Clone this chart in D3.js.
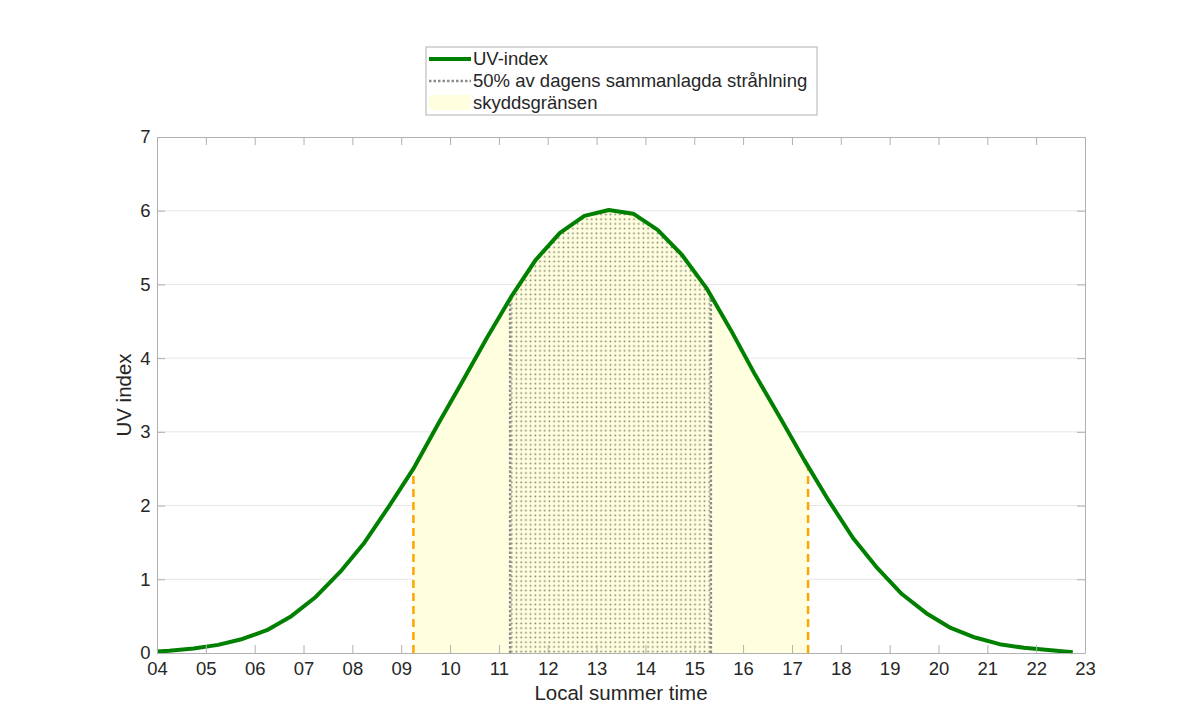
<!DOCTYPE html>
<html>
<head>
<meta charset="utf-8">
<script src="https://cdn.jsdelivr.net/npm/d3@7"></script>
<style>
  body { margin: 0; background: #fff; }
  text { font-family: "Liberation Sans", Arial, sans-serif; }
</style>
</head>
<body>
<div id="chart"></div>
<script>
// hours (local summer time) and UV index
const hours = [4.0, 4.25, 4.75, 5.25, 5.75, 6.25, 6.75, 7.25, 7.75, 8.25, 8.75, 9.25, 9.75, 10.25, 10.75,
  11.25, 11.75, 12.25, 12.75, 13.25, 13.75, 14.25, 14.75, 15.25, 15.75, 16.25, 16.75, 17.25, 17.75,
  18.25, 18.75, 19.25, 19.75, 20.25, 20.75, 21.25, 21.75, 22.25, 22.75];
const uv = [0.02, 0.03, 0.06, 0.11, 0.19, 0.31, 0.50, 0.76, 1.10, 1.50, 1.99, 2.50, 3.10, 3.68, 4.27,
  4.83, 5.33, 5.70, 5.93, 6.01, 5.96, 5.74, 5.40, 4.95, 4.38, 3.77, 3.20, 2.62, 2.07,
  1.56, 1.15, 0.80, 0.54, 0.34, 0.21, 0.12, 0.07, 0.04, 0.01];
const xTicks = d3.range(4, 24);
const yTicks = d3.range(0, 8);
const protectRange = [9.25, 17.33];   // skyddsgränsen (UV >= 2.5)
const halfRange = [11.23, 15.34];     // 50% av dagens strålning
const legendLabels = ["UV-index", "50% av dagens sammanlagda stråhlning", "skyddsgränsen"];

const width = 1200, height = 723;
const margin = {top: 137, right: 115, bottom: 70, left: 157};
const w = width - margin.left - margin.right;
const h = height - margin.top - margin.bottom;

const svg = d3.select("#chart").append("svg")
    .attr("width", width)
    .attr("height", height);

const x = d3.scaleLinear().domain([4, 23]).range([0, w]);
const y = d3.scaleLinear().domain([0, 7]).range([h, 0]);

const data = hours.map((t, i) => ({t: t, v: uv[i]}));

// value on the curve at time t (linear between samples)
function valueAt(t) {
    const i = d3.bisector(d => d.t).right(data, t);
    if (i <= 0) return data[0].v;
    if (i >= data.length) return data[data.length - 1].v;
    const a = data[i - 1], b = data[i];
    return a.v + (b.v - a.v) * (t - a.t) / (b.t - a.t);
}

function segment(r) {
    const pts = [{t: r[0], v: valueAt(r[0])}];
    data.forEach(d => { if (d.t > r[0] && d.t < r[1]) pts.push(d); });
    pts.push({t: r[1], v: valueAt(r[1])});
    return pts;
}

const defs = svg.append("defs");
const pat = defs.append("pattern")
    .attr("id", "dots")
    .attr("patternUnits", "userSpaceOnUse")
    .attr("width", 4.7)
    .attr("height", 4.7);
pat.append("rect").attr("width", 4.7).attr("height", 4.7).attr("fill", "#ffffe0");
pat.append("rect").attr("x", 1.5).attr("y", 1.5).attr("width", 1.6).attr("height", 1.6).attr("fill", "#7c7c6c");

const g = svg.append("g").attr("transform", `translate(${margin.left},${margin.top})`);

// grid
g.selectAll(".grid").data(yTicks.slice(1, -1)).enter().append("line")
    .attr("x1", 0).attr("x2", w)
    .attr("y1", d => y(d)).attr("y2", d => y(d))
    .attr("stroke", "#e6e6e6").attr("stroke-width", 1);

const area = d3.area().x(d => x(d.t)).y0(h).y1(d => y(d.v));

g.append("path")
    .datum(segment(protectRange))
    .attr("d", area)
    .attr("fill", "#ffffe0");

g.append("path")
    .datum(segment(halfRange))
    .attr("d", area)
    .attr("fill", "url(#dots)");

// dotted borders of the 50% region
halfRange.forEach(t => {
    g.append("line")
        .attr("x1", x(t)).attr("x2", x(t))
        .attr("y1", h).attr("y2", y(valueAt(t)))
        .attr("stroke", "#8c8c8c").attr("stroke-width", 2.5)
        .attr("stroke-dasharray", "2.5,2");
});

// orange dashed limits
protectRange.forEach(t => {
    g.append("line")
        .attr("x1", x(t)).attr("x2", x(t))
        .attr("y1", h).attr("y2", y(valueAt(t)))
        .attr("stroke", "#ffa500").attr("stroke-width", 2.5)
        .attr("stroke-dasharray", "8,5");
});

// curve
g.append("path")
    .datum(data)
    .attr("d", d3.line().x(d => x(d.t)).y(d => y(d.v)))
    .attr("fill", "none")
    .attr("stroke", "#008000")
    .attr("stroke-width", 4)
    .attr("stroke-linejoin", "round");

// axes
const xAxis = g.append("g").attr("transform", `translate(0,${h})`)
    .call(d3.axisBottom(x).tickValues(xTicks).tickSizeInner(-8).tickSizeOuter(0).tickPadding(12)
        .tickFormat(d => String(d).padStart(2, "0")));
const xTop = g.append("g")
    .call(d3.axisTop(x).tickValues(xTicks).tickSizeInner(-8).tickSizeOuter(0).tickFormat(""));
const yAxis = g.append("g")
    .call(d3.axisLeft(y).tickValues(yTicks).tickSizeInner(-8).tickSizeOuter(0).tickPadding(12)
        .tickFormat(d3.format("d")));
const yRight = g.append("g").attr("transform", `translate(${w},0)`)
    .call(d3.axisRight(y).tickValues(yTicks).tickSizeInner(-8).tickSizeOuter(0).tickFormat(""));

[xAxis, xTop, yAxis, yRight].forEach(a => {
    a.select(".domain").attr("stroke", "#b0b0b0");
    a.selectAll(".tick line").attr("stroke", "#b0b0b0");
    a.selectAll(".tick text").attr("fill", "#262626").style("font-size", "18.5px")
        .style("font-family", "'Liberation Sans', Arial, sans-serif");
});
xAxis.selectAll(".tick text").attr("dy", "0.55em");
yAxis.selectAll(".tick text").attr("dx", "0.3em");

svg.append("text")
    .attr("x", margin.left + w / 2)
    .attr("y", 700)
    .attr("text-anchor", "middle")
    .attr("fill", "#262626")
    .style("font-size", "20.5px")
    .text("Local summer time");

svg.append("text")
    .attr("transform", `translate(131,${margin.top + h / 2}) rotate(-90)`)
    .attr("text-anchor", "middle")
    .attr("fill", "#262626")
    .style("font-size", "20.5px")
    .text("UV index");

// legend
const lg = svg.append("g").attr("transform", "translate(426,47)");
lg.append("rect").attr("width", 391).attr("height", 68)
    .attr("fill", "#fff").attr("stroke", "#b0b0b0");
lg.append("line").attr("x1", 3).attr("x2", 45).attr("y1", 12).attr("y2", 12)
    .attr("stroke", "#008000").attr("stroke-width", 4);
lg.append("line").attr("x1", 3).attr("x2", 45).attr("y1", 34).attr("y2", 34)
    .attr("stroke", "#8c8c8c").attr("stroke-width", 2.5).attr("stroke-dasharray", "2.5,2");
lg.append("rect").attr("x", 3).attr("y", 48).attr("width", 42).attr("height", 15)
    .attr("fill", "#ffffe0");
lg.selectAll(".lab").data(legendLabels).enter().append("text")
    .attr("x", 47)
    .attr("y", (d, i) => 12 + i * 22)
    .attr("dy", "0.35em")
    .attr("fill", "#262626")
    .style("font-size", "18.5px")
    .text(d => d);
</script>
</body>
</html>
